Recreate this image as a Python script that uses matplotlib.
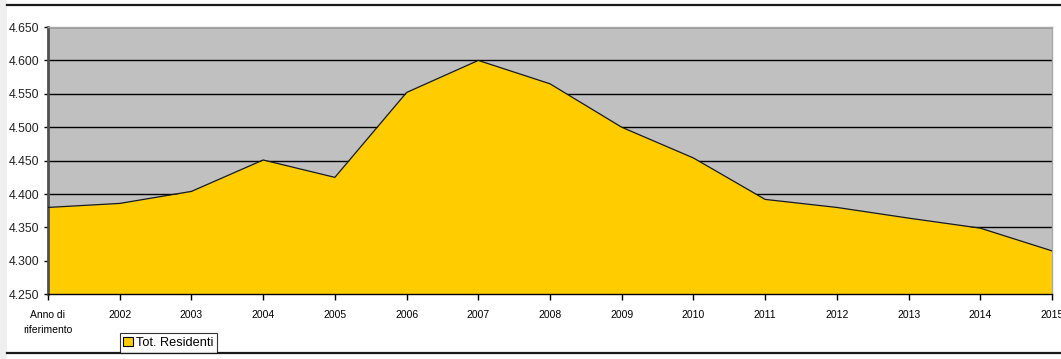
import matplotlib
matplotlib.use("Agg")
import matplotlib.pyplot as plt
from matplotlib.lines import Line2D
from matplotlib.patches import Rectangle, Patch
from matplotlib.ticker import FuncFormatter

plt.rcParams['font.family'] = ['Liberation Sans', 'DejaVu Sans']

categories = ["Anno di\nriferimento", "2002", "2003", "2004", "2005", "2006", "2007",
              "2008", "2009", "2010", "2011", "2012", "2013", "2014", "2015"]
residenti = [4380, 4386, 4404, 4451, 4425, 4552, 4600, 4565, 4500, 4454,
             4392, 4380, 4364, 4349, 4315]
series_name = "Tot. Residenti"
y_ticks = [4250, 4300, 4350, 4400, 4450, 4500, 4550, 4600, 4650]

W, H = 1061, 359
fig = plt.figure(figsize=(W / 100, H / 100), dpi=100)
fig.patch.set_facecolor("white")

# left light strip
fig.add_artist(Rectangle((0, 0), 7 / W, 1, transform=fig.transFigure,
                         facecolor="#efefef", edgecolor="none", zorder=0))
# top & bottom frame lines
fig.add_artist(Line2D([7 / W, 1], [1 - 5 / H, 1 - 5 / H], transform=fig.transFigure,
                      color="#1a1a1a", lw=1.6))
fig.add_artist(Line2D([7 / W, 1], [1 - 352.5 / H, 1 - 352.5 / H], transform=fig.transFigure,
                      color="#1a1a1a", lw=1.6))

left, right, top, bottom = 48, 1052, 27, 294.3
ax = fig.add_axes([left / W, 1 - bottom / H, (right - left) / W, (bottom - top) / H])
ax.set_facecolor("#C0C0C0")

x = list(range(len(categories)))
ax.fill_between(x, residenti, y_ticks[0], color="#FFCC00", zorder=2, linewidth=0)
ax.plot(x, residenti, color="#1a1a1a", lw=0.9, zorder=3)

ax.set_xlim(0, len(categories) - 1)
ax.set_ylim(y_ticks[0], y_ticks[-1])
ax.set_yticks(y_ticks)
ax.yaxis.set_major_formatter(FuncFormatter(lambda v, p: f"{v/1000:.3f}"))
ax.set_xticks(x)
ax.set_xticklabels(categories, linespacing=1.65)
ax.yaxis.grid(True, color="black", lw=1.0)
ax.set_axisbelow(True)

ax.tick_params(axis="x", direction="out", length=4, width=1, colors="black",
               labelsize=7.5, pad=7)
ax.tick_params(axis="y", direction="out", length=3, width=1, colors="black",
               labelsize=8.8, pad=3)
for lab in ax.get_yticklabels():
    lab.set_color("#222222")

ax.spines["left"].set_color("#505050")
ax.spines["left"].set_linewidth(2)
ax.spines["bottom"].set_color("black")
ax.spines["bottom"].set_linewidth(1)
ax.spines["top"].set_color("#a8a8a8")
ax.spines["top"].set_linewidth(1)
ax.spines["right"].set_color("#a8a8a8")
ax.spines["right"].set_linewidth(1)

handle = Patch(facecolor="#FFCC00", edgecolor="black", linewidth=0.8)
leg = fig.legend([handle], [series_name], loc="lower left",
                 bbox_to_anchor=(119.5 / W, 1 - 352.5 / H), fontsize=9.2,
                 frameon=True, fancybox=False, borderpad=0.3, handlelength=0.75,
                 handleheight=0.75, handletextpad=0.25, borderaxespad=0)
leg.get_frame().set_edgecolor("black")
leg.get_frame().set_linewidth(0.8)

fig.savefig("out.png", dpi=100, facecolor="white")
